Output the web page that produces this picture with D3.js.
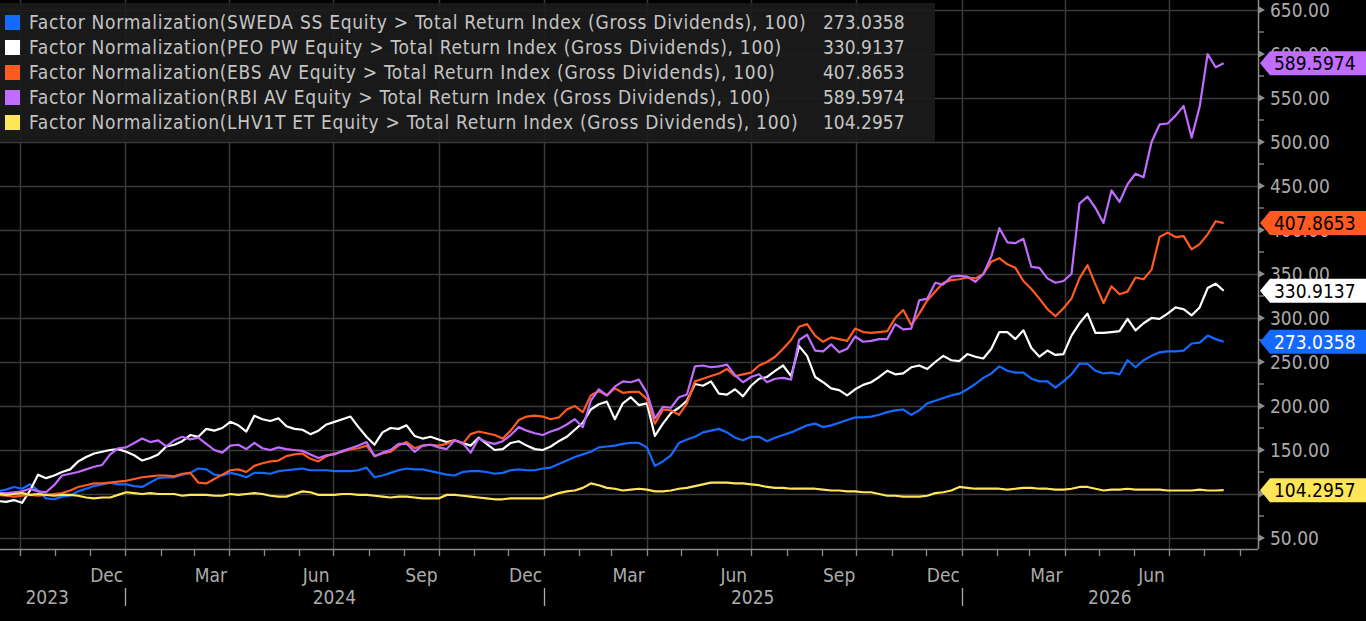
<!DOCTYPE html>
<html>
<head>
<meta charset="utf-8">
<script src="https://cdn.jsdelivr.net/npm/d3@7"></script>
<style>
  html, body { margin: 0; padding: 0; background: #000; overflow: hidden; }
  svg { display: block; }
  text { font-family: "DejaVu Sans Condensed", "DejaVu Sans", sans-serif; }
</style>
</head>
<body>
<script>
// weekly closes, first one on 22 Aug 2023
const startDate = new Date(2023, 7, 22);

const seriesNames = [
  "Factor Normalization(SWEDA SS Equity > Total Return Index (Gross Dividends), 100)",
  "Factor Normalization(PEO PW Equity > Total Return Index (Gross Dividends), 100)",
  "Factor Normalization(EBS AV Equity > Total Return Index (Gross Dividends), 100)",
  "Factor Normalization(RBI AV Equity > Total Return Index (Gross Dividends), 100)",
  "Factor Normalization(LHV1T ET Equity > Total Return Index (Gross Dividends), 100)"
];
const lastValues = ["273.0358", "330.9137", "407.8653", "589.5974", "104.2957"];
const seriesColors = ["#1469ff", "#ffffff", "#ff5a1f", "#c06cff", "#ffe558"];
const tagTextColors = ["#ffffff", "#000000", "#000000", "#000000", "#000000"];

const swedaValues = [
  100,102,101,103,105,108,106,111,104,95,
  94,97,98,103,106,109,111,113,111,111,
  109,108,113,118,119,119,122,124,129,128,
  122,121,124,122,119,124,124,123,126,127,
  128,129,127,127,127,126,126,126,127,130,
  119,121,124,127,129,128,128,126,124,122,
  121,125,126,126,125,123,124,127,128,127,
  127,129,130,134,138,142,145,148,153,154,
  155,157,158,158,153,132,137,144,158,162,
  165,170,172,174,170,164,161,165,165,160,
  164,167,170,174,178,180,176,178,181,184,
  187,187,188,190,193,195,196,190,195,203,
  206,209,212,214,219,225,232,237,245,240,
  238,238,231,228,228,221,228,236,248,248,
  240,237,238,236,252,244,252,257,261,262,
  262,263,271,272,280,276,273.0358
];
const peoValues = [
  100,97,94,92,91,93,90,104,122,118,
  121,125,128,137,142,146,148,150,151,148,
  144,138,141,145,154,156,160,167,165,174,
  172,175,182,178,171,189,185,183,186,177,
  174,173,168,172,179,182,185,188,176,165,
  156,170,175,174,178,166,163,165,162,159,
  161,158,155,164,157,150,151,158,160,155,
  151,150,154,160,165,173,181,196,202,205,
  185,203,210,201,203,166,180,192,198,206,
  225,223,228,214,213,219,211,223,231,233,
  240,246,234,268,257,233,227,220,218,212,
  219,224,227,233,240,236,237,244,246,242,
  250,257,252,251,259,256,254,265,284,284,
  276,286,266,256,263,258,259,280,294,305,
  283,283,284,285,299,286,294,300,299,305,
  312,310,303,312,334,339,330.9137
];
const ebsValues = [
  100,99,98,99,98,97,98,99,98,99,
  100,101,104,108,110,112,112,113,114,115,
  117,119,120,121,121,120,123,124,113,112,
  117,122,127,128,125,132,135,137,138,143,
  145,146,140,137,143,146,148,151,152,155,
  143,146,148,155,159,152,155,156,155,157,
  161,157,168,171,169,167,163,172,184,188,
  189,188,185,187,196,200,193,212,217,212,
  220,215,216,216,208,180,196,195,190,203,
  228,231,234,237,242,234,236,238,246,250,
  256,265,275,290,293,280,273,278,276,274,
  288,284,283,284,285,300,309,292,305,320,
  330,340,343,344,346,345,350,364,368,361,
  357,342,333,322,310,302,311,322,345,360,
  338,317,336,327,330,346,344,355,392,397,
  392,393,378,384,395,410,407.8653
];
const rbiValues = [
  100,101,99,101,101,102,103,106,103,102,
  110,121,123,125,128,131,133,145,152,153,
  158,163,159,161,154,161,165,162,164,157,
  150,147,155,156,151,158,152,150,153,151,
  150,149,145,141,144,145,149,152,155,159,
  143,147,150,157,157,148,155,156,153,151,
  161,158,147,163,159,157,160,167,176,172,
  169,167,171,174,179,185,176,206,219,212,
  222,228,227,230,215,186,199,198,210,213,
  245,246,244,245,247,235,227,233,236,227,
  231,232,230,275,281,263,262,270,261,265,
  279,273,274,276,276,293,287,288,320,322,
  340,338,347,348,347,341,350,370,402,386,
  385,390,358,357,345,340,342,350,430,438,
  425,408,445,432,452,464,460,500,520,521,
  530,541,505,540,600,585,589.5974
];
const lhvValues = [
  100,100,99,100,99,100,101,99,100,99,
  98,99,99,98,96,95,96,96,99,102,
  101,100,101,100,100,100,98,99,99,99,
  98,98,100,99,100,101,100,98,97,97,
  100,103,102,99,99,99,100,100,99,99,
  98,97,96,97,97,96,95,95,95,99,
  99,98,97,96,95,94,94,95,95,95,
  95,95,98,101,103,104,107,112,110,107,
  106,104,105,106,105,103,103,104,106,107,
  109,111,113,113,113,112,112,111,110,108,
  107,107,106,106,106,106,105,104,104,103,
  103,102,102,100,98,98,97,97,97,98,
  101,102,104,108,107,106,106,106,106,105,
  106,107,107,106,106,105,105,106,108,108,
  106,104,105,105,106,105,105,105,105,104,
  104,104,104,105,104,104,104.2957
];

const yTickValues = [50, 100, 150, 200, 250, 300, 350, 400, 450, 500, 550, 600, 650];
const yearLabels = [2023, 2024, 2025, 2026];

const allSeries = [swedaValues, peoValues, ebsValues, rbiValues, lhvValues];

const W = 1366, H = 621;
const plot = {left: 0, right: 1258, top: 0, bottom: 549};

const svg = d3.select("body").append("svg")
  .attr("width", W).attr("height", H)
  .style("background", "#000");

// the chart is cut off on the left, so the time axis starts before x = 0
const xStart = new Date(2023, 7, 18), xEnd = new Date(2026, 8, 17);
const x = d3.scaleTime().domain([xStart, xEnd]).range([-30.6, plot.right]);
const y = d3.scaleLinear().domain([50, 650]).range([538, 10]);

const gridColor = "#3b3b3b";
const axisColor = "#8c8c8c";
const labelColor = "#ababab";

// horizontal grid
svg.append("g").selectAll("line").data(yTickValues).join("line")
  .attr("x1", plot.left).attr("x2", plot.right)
  .attr("y1", d => Math.round(y(d)) + 0.5).attr("y2", d => Math.round(y(d)) + 0.5)
  .attr("stroke", gridColor).attr("stroke-width", 1.5);

// vertical grid at quarter starts
const months = d3.timeMonth.range(d3.timeMonth.ceil(xStart), xEnd);
const quarters = months.filter(d => d.getMonth() % 3 === 0);
svg.append("g").selectAll("line").data(quarters).join("line")
  .attr("x1", d => Math.round(x(d)) + 0.5).attr("x2", d => Math.round(x(d)) + 0.5)
  .attr("y1", plot.top).attr("y2", plot.bottom)
  .attr("stroke", gridColor).attr("stroke-width", 1.5);

// legend box
const legend = svg.append("g");
legend.append("rect")
  .attr("x", 0).attr("y", 3).attr("width", 935).attr("height", 139)
  .attr("fill", "#1c1c1c").attr("fill-opacity", 0.9);
seriesNames.forEach((name, i) => {
  const cy = 22 + i * 25;
  legend.append("rect")
    .attr("x", 5).attr("y", cy - 7).attr("width", 15).attr("height", 15)
    .attr("fill", seriesColors[i]);
  legend.append("text")
    .attr("x", 29).attr("y", cy).attr("dy", "0.36em")
    .attr("fill", "#c4c4c4").attr("font-size", 19)
    .attr("letter-spacing", 0.72)
    .text(name);
  legend.append("text")
    .attr("x", 823).attr("y", cy).attr("dy", "0.36em")
    .attr("fill", "#c4c4c4").attr("font-size", 19)
    .text(lastValues[i]);
});

// lines
svg.append("clipPath").attr("id", "plotClip")
  .append("rect").attr("x", plot.left).attr("y", plot.top)
  .attr("width", plot.right - plot.left).attr("height", plot.bottom - plot.top);

const line = d3.line()
  .x(d => x(d.date))
  .y(d => y(d.value));

const lines = svg.append("g").attr("clip-path", "url(#plotClip)");
allSeries.forEach((vals, i) => {
  const pts = vals.map((v, k) => ({date: d3.timeDay.offset(startDate, 7 * k), value: v}));
  lines.append("path")
    .datum(pts)
    .attr("fill", "none")
    .attr("stroke", seriesColors[i])
    .attr("stroke-width", 2.2)
    .attr("stroke-linejoin", "round")
    .attr("d", line);
});

// right axis
const ax = svg.append("g");
ax.append("line")
  .attr("x1", plot.right + 0.5).attr("x2", plot.right + 0.5)
  .attr("y1", plot.top).attr("y2", plot.bottom)
  .attr("stroke", axisColor).attr("stroke-width", 1.5);
const minorTicks = yTickValues.slice(0, -1).map(d => d + 25);
ax.selectAll(".minor").data(minorTicks).join("line")
  .attr("x1", plot.right).attr("x2", plot.right + 6)
  .attr("y1", d => y(d)).attr("y2", d => y(d))
  .attr("stroke", axisColor).attr("stroke-width", 1.3);
ax.selectAll(".major").data(yTickValues).join("path")
  .attr("d", d => `M${plot.right},${y(d) - 4}L${plot.right + 7},${y(d)}L${plot.right},${y(d) + 4}Z`)
  .attr("fill", axisColor);
ax.selectAll("text").data(yTickValues).join("text")
  .attr("x", plot.right + 12).attr("y", d => y(d)).attr("dy", "0.36em")
  .attr("fill", labelColor).attr("font-size", 19)
  .text(d => d3.format(".2f")(d));

// last value tags
allSeries.forEach((vals, i) => {
  const ty = y(vals[vals.length - 1]);
  const g = svg.append("g");
  g.append("path")
    .attr("d", `M${plot.right + 2},${ty}L${plot.right + 12},${ty - 12}L${W},${ty - 12}L${W},${ty + 12}L${plot.right + 12},${ty + 12}Z`)
    .attr("fill", seriesColors[i]);
  g.append("text")
    .attr("x", plot.right + 16).attr("y", ty).attr("dy", "0.36em")
    .attr("fill", tagTextColors[i]).attr("font-size", 19)
    .text(lastValues[i]);
});

// bottom axis
const bx = svg.append("g");
bx.append("line")
  .attr("x1", plot.left).attr("x2", plot.right)
  .attr("y1", plot.bottom + 0.5).attr("y2", plot.bottom + 0.5)
  .attr("stroke", axisColor).attr("stroke-width", 1.5);
bx.selectAll(".mtick").data(months).join("line")
  .attr("x1", d => Math.round(x(d)) + 0.5).attr("x2", d => Math.round(x(d)) + 0.5)
  .attr("y1", plot.bottom).attr("y2", plot.bottom + 7)
  .attr("stroke", axisColor).attr("stroke-width", 1.3);

const fmtMonth = d3.timeFormat("%b");
// only quarter-end months whose label fits inside the plot width
const labelMonths = months.filter(d => {
  const cx = x(d3.timeDay.offset(d, 15));
  return d.getMonth() % 3 === 2 && cx > 20 && cx < plot.right - 20;
});
bx.selectAll(".mlabel").data(labelMonths).join("text")
  .attr("x", d => x(d3.timeDay.offset(d, 15)))
  .attr("y", 575).attr("dy", "0.36em")
  .attr("text-anchor", "middle")
  .attr("fill", labelColor).attr("font-size", 19)
  .text(d => fmtMonth(d));

yearLabels.forEach(yr => {
  const a = Math.max(x(new Date(yr, 0, 1)), x(xStart));
  const b = Math.min(x(new Date(yr + 1, 0, 1)), plot.right);
  bx.append("text")
    .attr("x", (a + b) / 2).attr("y", 597).attr("dy", "0.36em")
    .attr("text-anchor", "middle")
    .attr("fill", labelColor).attr("font-size", 19)
    .text(yr);
  if (yr > yearLabels[0]) {
    const sx = Math.round(x(new Date(yr, 0, 1))) + 0.5;
    bx.append("line")
      .attr("x1", sx).attr("x2", sx).attr("y1", 588).attr("y2", 606)
      .attr("stroke", labelColor).attr("stroke-width", 1.3);
  }
});
</script>
</body>
</html>
